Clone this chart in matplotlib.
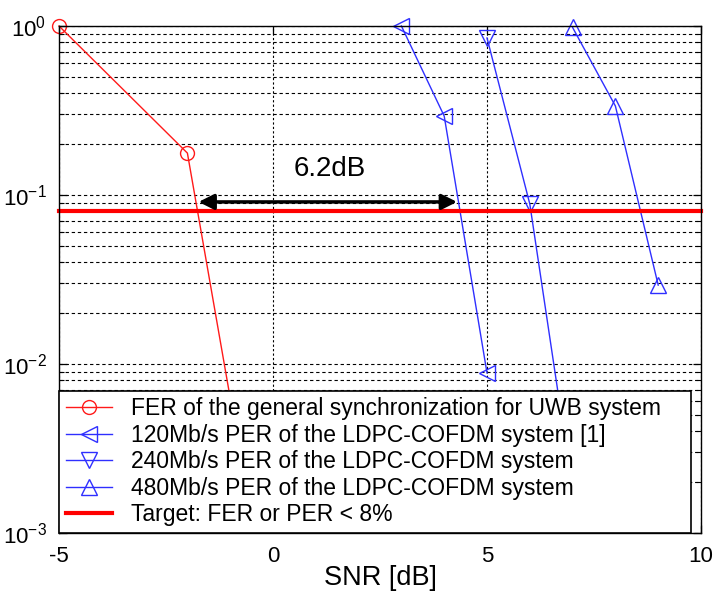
import matplotlib
matplotlib.use("Agg")
import matplotlib.pyplot as plt
from matplotlib.ticker import LogLocator, NullFormatter, FixedLocator

plt.rcParams['font.family'] = ['Liberation Sans', 'DejaVu Sans']
plt.rcParams['mathtext.default'] = 'regular'
plt.rcParams['axes.unicode_minus'] = False

# --- data ---
fer_snr = [-5, -2, -1]
fer_val = [1.0, 0.177, 0.0063]

snr_120 = [3, 4, 5]
per_120 = [1.0, 0.293, 0.00885]

snr_240 = [5, 6, 7]
per_240 = [0.85, 0.0885, 0.0018]

snr_480 = [7, 8, 9]
per_480 = [0.98, 0.336, 0.0293]

target = 0.08
gap_from, gap_to, gap_level = -1.74, 4.30, 0.091
gap_label = "6.2dB"

labels = [
    "FER of the general synchronization for UWB system",
    "120Mb/s PER of the LDPC-COFDM system [1]",
    "240Mb/s PER of the LDPC-COFDM system",
    "480Mb/s PER of the LDPC-COFDM system",
    "Target: FER or PER < 8%",
]

red = '#ff1a1a'
blue = '#2f2fff'

fig = plt.figure(figsize=(7.17, 5.91), dpi=100)
ax = fig.add_axes([59 / 717, 1 - 533 / 591, 642 / 717, 507 / 591])

ax.set_yscale('log')
ax.set_xlim(-5, 10)
ax.set_ylim(1e-3, 1)

# --- grid (drawn first so curves sit on top) ---
ax.yaxis.set_major_locator(LogLocator(base=10))
ax.yaxis.set_minor_locator(LogLocator(base=10, subs=range(2, 10)))
ax.yaxis.set_minor_formatter(NullFormatter())
ax.xaxis.set_major_locator(FixedLocator([-5, 0, 5, 10]))
ax.grid(True, which='major', axis='x', color='k', linestyle=(0, (2, 2)), linewidth=0.8)
ax.grid(True, which='both', axis='y', color='k', linestyle=(0, (3, 2.5)), linewidth=0.8)
ax.set_axisbelow(True)

ax.plot(fer_snr, fer_val, '-o', color=red, linewidth=1.0, markersize=10,
        markerfacecolor='none', markeredgewidth=1.0, label=labels[0])
ax.plot(snr_120, per_120, '-<', color=blue, linewidth=1.0, markersize=12,
        markerfacecolor='none', markeredgewidth=1.0, label=labels[1])
ax.plot(snr_240, per_240, '-v', color=blue, linewidth=1.0, markersize=12,
        markerfacecolor='none', markeredgewidth=1.0, label=labels[2])
ax.plot(snr_480, per_480, '-^', color=blue, linewidth=1.0, markersize=12,
        markerfacecolor='none', markeredgewidth=1.0, label=labels[3])
ax.axhline(target, color='#ff0000', linewidth=3.0, label=labels[4])

for c in ax.lines:
    c.set_clip_on(False)

# --- 6.2 dB gap arrow ---
ax.annotate('', xy=(gap_from, gap_level), xytext=(gap_to, gap_level),
            arrowprops=dict(arrowstyle='<|-|>', color='k', lw=2.5,
                            mutation_scale=23, shrinkA=0, shrinkB=0))
ax.text(1.33, 0.1426, gap_label, fontsize=20, ha='center', va='center')

# --- ticks / labels ---
ax.set_yticks([1e-3, 1e-2, 1e-1, 1])
ax.set_yticklabels(['$10^{-3}$', '$10^{-2}$', '$10^{-1}$', '$10^{0}$'])
ax.tick_params(which='both', direction='in', top=True, right=True,
               labelsize=16, pad=9)
ax.tick_params(which='major', length=6, width=0.9)
ax.tick_params(which='minor', length=3.5, width=0.8)
ax.set_xlabel('SNR [dB]', fontsize=19.5, labelpad=-1)
for s in ax.spines.values():
    s.set_linewidth(1.0)

leg = ax.legend(loc='lower left', bbox_to_anchor=(0, 0, 632 / 642, 0.3),
                mode='expand', borderaxespad=0,
                fontsize=16.5, frameon=True, fancybox=False, framealpha=1,
                edgecolor='k', handlelength=2.0, handletextpad=0.85,
                labelspacing=0.15, borderpad=0.3)
leg.get_frame().set_linewidth(1.2)
leg.set_zorder(5)

fig.savefig('out.png', dpi=100)
